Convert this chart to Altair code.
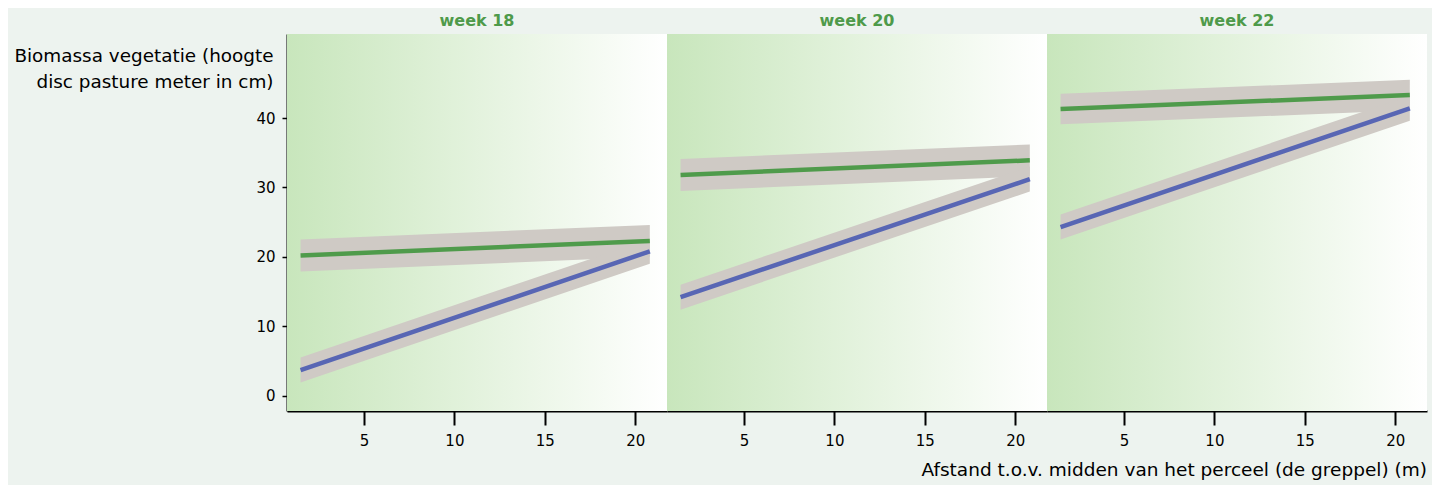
import altair as alt
import pandas as pd

weeks = ["week 18", "week 20", "week 22"]
series = ["groen", "blauw"]
x_start = [1.5, 1.5, 1.5]
x_end = [20.8, 20.8, 20.8]
green_start = [20.2, 31.8, 41.3]
green_end = [22.3, 33.9, 43.3]
blue_start = [3.7, 14.2, 24.3]
blue_end = [20.8, 31.2, 41.4]
green_ci = [2.3, 2.3, 2.2]
blue_ci = [1.8, 1.8, 1.8]
x_ticks = [5, 10, 15, 20]
y_ticks = [0, 10, 20, 30, 40]

rows = []
for i, w in enumerate(weeks):
    for s, ys, ye, ci in [("groen", green_start[i], green_end[i], green_ci[i]),
                          ("blauw", blue_start[i], blue_end[i], blue_ci[i])]:
        rows.append(dict(week=w, serie=s, x=x_start[i], y=ys, lo=ys - ci, hi=ys + ci))
        rows.append(dict(week=w, serie=s, x=x_end[i], y=ye, lo=ye - ci, hi=ye + ci))
df = pd.DataFrame(rows)

W, H = 380, 377
FONT = "DejaVu Sans"
xscale = alt.Scale(domain=[0.75, 21.75], nice=False, zero=False)
yscale = alt.Scale(domain=[-2.2, 52.1], nice=False, zero=False)
cscale = alt.Scale(domain=series, range=["#4f9b4b", "#5866b4"])

grad = alt.Gradient(
    gradient="linear",
    stops=[alt.GradientStop(color="#c8e6bc", offset=0),
           alt.GradientStop(color="#ffffff", offset=1)],
    x1=0, x2=1, y1=0, y2=0,
)


def panel(i):
    w = weeks[i]
    d = df[df.week == w]
    xaxis = alt.Axis(values=x_ticks, title=None, tickSize=14, tickWidth=2,
                     domainWidth=2, domainColor="black", tickColor="black",
                     labelFontSize=15, labelColor="black", labelFont=FONT,
                     labelPadding=8, grid=False)
    if i == 0:
        yaxis = alt.Axis(values=y_ticks, title=["Biomassa vegetatie (hoogte",
                                                 "disc pasture meter in cm)"],
                         titleAngle=0, titleAlign="right", titleBaseline="top",
                         titleX=-14, titleY=12, titleFontSize=18.4,
                         titleFontWeight="normal", titleFont=FONT,
                         titleColor="black", titleLineHeight=26,
                         tickSize=5, tickWidth=1.5, domainWidth=2,
                         domainColor="black", tickColor="black",
                         labelFontSize=15, labelColor="black", labelFont=FONT,
                         labelPadding=7, grid=False)
    else:
        yaxis = None
    bg = alt.Chart(pd.DataFrame({"a": [0]})).mark_rect(color=grad).encode(
        x=alt.value(0), x2=alt.value(W), y=alt.value(0), y2=alt.value(H))
    band = alt.Chart(d).mark_area(color="#cfcac5", opacity=1).encode(
        x=alt.X("x:Q", scale=xscale, axis=xaxis),
        y=alt.Y("lo:Q", scale=yscale, axis=yaxis),
        y2="hi:Q",
        detail="serie:N",
    )
    line = alt.Chart(d).mark_line(strokeWidth=4.5, strokeCap="butt").encode(
        x=alt.X("x:Q", scale=xscale),
        y=alt.Y("y:Q", scale=yscale),
        color=alt.Color("serie:N", scale=cscale, legend=None),
    )
    return alt.layer(bg, band, line).properties(
        width=W, height=H,
        title=alt.TitleParams(w, color="#4e9a4a", fontSize=16, fontWeight="bold",
                              font=FONT, offset=5),
    )


chart = alt.hconcat(panel(0), panel(1), panel(2), spacing=0).properties(
    title=alt.TitleParams(
        "Afstand t.o.v. midden van het perceel (de greppel) (m)",
        orient="bottom", anchor="end", fontSize=18.5, fontWeight="normal",
        font=FONT, color="black", offset=13),
).configure(background="#edf3ef").configure_view(stroke=None)

chart.save("out.html", embed_options={"renderer": "svg", "actions": False})
